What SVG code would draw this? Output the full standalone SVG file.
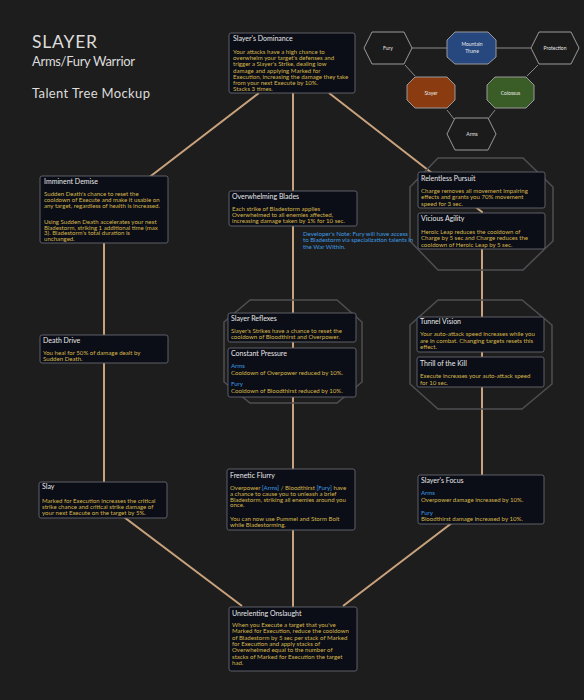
<svg xmlns="http://www.w3.org/2000/svg" width="584" height="700" viewBox="0 0 584 700">
<style>
.bg{fill:#1e1d1d}
.bx{fill:#0b0d17;stroke:#5c5f68;stroke-width:1}
.t{font-family:Lato,"Open Sans","DejaVu Sans",sans-serif;font-size:7px;fill:#e8e8e8}
.b{font-family:Lato,"Open Sans","DejaVu Sans",sans-serif;font-size:6.1px;fill:#d6b74a}
.bl{fill:#3d9be0}
.oct{fill:none;stroke:#4f4f53;stroke-width:1.5}
.ln{stroke:#c8a27c;stroke-width:2;fill:none}
.hx{stroke:#9a9a9a;stroke-width:1}
.hl{stroke:#8a8a8a;stroke-width:1;fill:none}
.ht{font-family:Lato,"Open Sans","DejaVu Sans",sans-serif;font-size:5px;fill:#e8e8e8;text-anchor:middle}
.h{font-family:Lato,"Open Sans","DejaVu Sans",sans-serif;fill:#dcdcdc}
</style>
<rect class="bg" x="0" y="0" width="584" height="700"/>

<g id="heading">
<text class="h" x="32" y="48.3" font-size="17.5" textLength="65">SLAYER</text>
<text class="h" x="32" y="65.5" font-size="13" textLength="103">Arms/Fury Warrior</text>
<text class="h" x="32" y="97.5" font-size="13" textLength="118">Talent Tree Mockup</text>
</g>

<g id="hero-map">
<g id="hero-links">
<line class="hl" x1="412" y1="48" x2="447" y2="48"/>
<line class="hl" x1="496" y1="48" x2="531" y2="48"/>
<line class="hl" x1="405" y1="65" x2="415" y2="76"/>
<line class="hl" x1="538" y1="65" x2="527" y2="76"/>
<line class="hl" x1="454" y1="119" x2="447" y2="110"/>
<line class="hl" x1="488" y1="119" x2="495" y2="110"/>
</g>
<g id="hero-fury"><polygon class="hx" fill="#1c1b1b" points="364,48 372,32 404,32 412,48 404,64 372,64"/><text class="ht" x="388" y="50">Fury</text></g>
<g id="hero-mountain-thane"><polygon class="hx" fill="#27477f" points="455,32 488,32 496,40 496,57 488,64 455,64 447,57 447,40"/><text class="ht" x="472" y="46">Mountain</text><text class="ht" x="472" y="53">Thane</text></g>
<g id="hero-protection"><polygon class="hx" fill="#1c1b1b" points="531,48 539,32 571,32 579,48 571,64 539,64"/><text class="ht" x="555" y="50">Protection</text></g>
<g id="hero-slayer"><polygon class="hx" fill="#8a3b10" points="415,77 447,77 455,85 455,100 447,108 415,108 407,100 407,85"/><text class="ht" x="431" y="95">Slayer</text></g>
<g id="hero-colossus"><polygon class="hx" fill="#3a5d27" points="495,77 526,77 534,85 534,100 526,108 495,108 487,100 487,85"/><text class="ht" x="510.5" y="95">Colossus</text></g>
<g id="hero-arms"><polygon class="hx" fill="#1c1b1b" points="447,134 455,118 488,118 496,134 488,150 455,150"/><text class="ht" x="472" y="136">Arms</text></g>
</g>

<g id="connectors">
<polyline class="ln" points="259,93 104,212 104,502 242,606"/>
<polyline class="ln" points="329,93 482,212 482,500 343,606"/>
<line class="ln" x1="293" y1="93" x2="293" y2="607"/>
</g>

<g id="choice-frames">
<polygon class="oct" points="250,300 337,300 362,322 362,382 337,403 250,403 224,382 224,322"/>
<polygon class="oct" points="438,158 523,158 553,187 553,241 523,270 438,270 410,241 410,187"/>
<polygon class="oct" points="438,300 522,300 552,325 552,384 522,409 438,409 410,384 410,325"/>
</g>

<g id="slayers-dominance">
<rect class="bx" x="229" y="33" width="126" height="60" rx="2"/>
<text class="t" x="233" y="40.5">Slayer's Dominance</text>
<text class="b" x="233" y="54">Your attacks have a high chance to</text>
<text class="b" x="233" y="60.2">overwhelm your target's defenses and</text>
<text class="b" x="233" y="66.4">trigger a Slayer's Strike, dealing low</text>
<text class="b" x="233" y="72.6">damage and applying Marked for</text>
<text class="b" x="233" y="78.8">Execution, increasing the damage they take</text>
<text class="b" x="233" y="85">from your next Execute by 10%.</text>
<text class="b" x="233" y="91.2">Stacks 3 times.</text>
</g>

<g id="imminent-demise">
<rect class="bx" x="40" y="176" width="128" height="67" rx="2"/>
<text class="t" x="44" y="184">Imminent Demise</text>
<text class="b" x="44" y="196">Sudden Death's chance to reset the</text>
<text class="b" x="44" y="202">cooldown of Execute and make it usable on</text>
<text class="b" x="44" y="208">any target, regardless of health is increased.</text>
<text class="b" x="44" y="224">Using Sudden Death accelerates your next</text>
<text class="b" x="44" y="229.7">Bladestorm, striking 1 additional time (max</text>
<text class="b" x="44" y="235.4">3). Bladestorm's total duration is</text>
<text class="b" x="44" y="241">unchanged.</text>
</g>

<g id="death-drive">
<rect class="bx" x="40" y="335" width="128" height="28" rx="2"/>
<text class="t" x="43" y="342.5">Death Drive</text>
<text class="b" x="43" y="355">You heal for 50% of damage dealt by</text>
<text class="b" x="43" y="361.3">Sudden Death.</text>
</g>

<g id="slay">
<rect class="bx" x="39" y="482" width="128" height="36" rx="2"/>
<text class="t" x="42" y="488.5">Slay</text>
<text class="b" x="42" y="503">Marked for Execution increases the critical</text>
<text class="b" x="42" y="508.8">strike chance and critical strike damage of</text>
<text class="b" x="42" y="514.6">your next Execute on the target by 5%.</text>
</g>

<g id="overwhelming-blades">
<rect class="bx" x="229" y="191" width="128" height="35" rx="2"/>
<text class="t" x="232" y="198.5">Overwhelming Blades</text>
<text class="b" x="232" y="211">Each strike of Bladestorm applies</text>
<text class="b" x="232" y="216.8">Overwhelmed to all enemies affected,</text>
<text class="b" x="232" y="222.6">increasing damage taken by 1% for 10 sec.</text>
</g>

<g id="developer-note">
<text class="b bl" x="303" y="235.5">Developer's Note: Fury will have access</text>
<text class="b bl" x="303" y="242.3">to Bladestorm via specialization talents in</text>
<text class="b bl" x="303" y="249.1">the War Within.</text>
</g>

<g id="slayer-reflexes">
<rect class="bx" x="228" y="313" width="128" height="29" rx="2"/>
<text class="t" x="231" y="320.5">Slayer Reflexes</text>
<text class="b" x="231" y="333">Slayer's Strikes have a chance to reset the</text>
<text class="b" x="231" y="339.3">cooldown of Bloodthirst and Overpower.</text>
</g>

<g id="constant-pressure">
<rect class="bx" x="228" y="348" width="128" height="49" rx="2"/>
<text class="t" x="231" y="355.5">Constant Pressure</text>
<text class="b bl" x="231" y="368">Arms</text>
<text class="b" x="231" y="375">Cooldown of Overpower reduced by 10%.</text>
<text class="b bl" x="231" y="386">Fury</text>
<text class="b" x="231" y="393.3">Cooldown of Bloodthirst reduced by 10%.</text>
</g>

<g id="relentless-pursuit">
<rect class="bx" x="418" y="172" width="127" height="36" rx="2"/>
<text class="t" x="421" y="180.5">Relentless Pursuit</text>
<text class="b" x="421" y="193">Charge removes all movement impairing</text>
<text class="b" x="421" y="199.3">effects and grants you 70% movement</text>
<text class="b" x="421" y="205.6">speed for 3 sec.</text>
</g>

<g id="vicious-agility">
<rect class="bx" x="418" y="213" width="127" height="36" rx="2"/>
<text class="t" x="421" y="220.5">Vicious Agility</text>
<text class="b" x="421" y="234">Heroic Leap reduces the cooldown of</text>
<text class="b" x="421" y="240.3">Charge by 5 sec and Charge reduces the</text>
<text class="b" x="421" y="246.6">cooldown of Heroic Leap by 5 sec.</text>
</g>

<g id="tunnel-vision">
<rect class="bx" x="417" y="317" width="127" height="35" rx="2"/>
<text class="t" x="420" y="323.5">Tunnel Vision</text>
<text class="b" x="420" y="336">Your auto-attack speed increases while you</text>
<text class="b" x="420" y="342.5">are in combat. Changing targets resets this</text>
<text class="b" x="420" y="349">effect.</text>
</g>

<g id="thrill-of-the-kill">
<rect class="bx" x="417" y="357" width="127" height="30" rx="2"/>
<text class="t" x="420" y="365.5">Thrill of the Kill</text>
<text class="b" x="420" y="378">Execute increases your auto-attack speed</text>
<text class="b" x="420" y="384.5">for 10 sec.</text>
</g>

<g id="slayers-focus">
<rect class="bx" x="418" y="475" width="126" height="49" rx="2"/>
<text class="t" x="421" y="482.5">Slayer's Focus</text>
<text class="b bl" x="421" y="495">Arms</text>
<text class="b" x="421" y="501.5">Overpower damage increased by 10%.</text>
<text class="b bl" x="421" y="515">Fury</text>
<text class="b" x="421" y="521">Bloodthirst damage increased by 10%.</text>
</g>

<g id="frenetic-flurry">
<rect class="bx" x="227" y="469" width="128" height="61" rx="2"/>
<text class="t" x="230" y="477.5">Frenetic Flurry</text>
<text class="b" x="230" y="490">Overpower <tspan class="bl">[Arms]</tspan> / Bloodthirst <tspan class="bl">[Fury]</tspan> have</text>
<text class="b" x="230" y="495.8">a chance to cause you to unleash a brief</text>
<text class="b" x="230" y="501.6">Bladestorm, striking all enemies around you</text>
<text class="b" x="230" y="507.4">once.</text>
<text class="b" x="230" y="521">You can now use Pummel and Storm Bolt</text>
<text class="b" x="230" y="527">while Bladestorming.</text>
</g>

<g id="unrelenting-onslaught">
<rect class="bx" x="229" y="607" width="128" height="64" rx="2"/>
<text class="t" x="232" y="615.5">Unrelenting Onslaught</text>
<text class="b" x="232" y="627">When you Execute a target that you've</text>
<text class="b" x="232" y="633.3">Marked for Execution, reduce the cooldown</text>
<text class="b" x="232" y="639.6">of Bladestorm by 5 sec per stack of Marked</text>
<text class="b" x="232" y="645.9">for Execution and apply stacks of</text>
<text class="b" x="232" y="652.2">Overwhelmed equal to the number of</text>
<text class="b" x="232" y="658.5">stacks of Marked for Execution the target</text>
<text class="b" x="232" y="664.8">had.</text>
</g>
</svg>
